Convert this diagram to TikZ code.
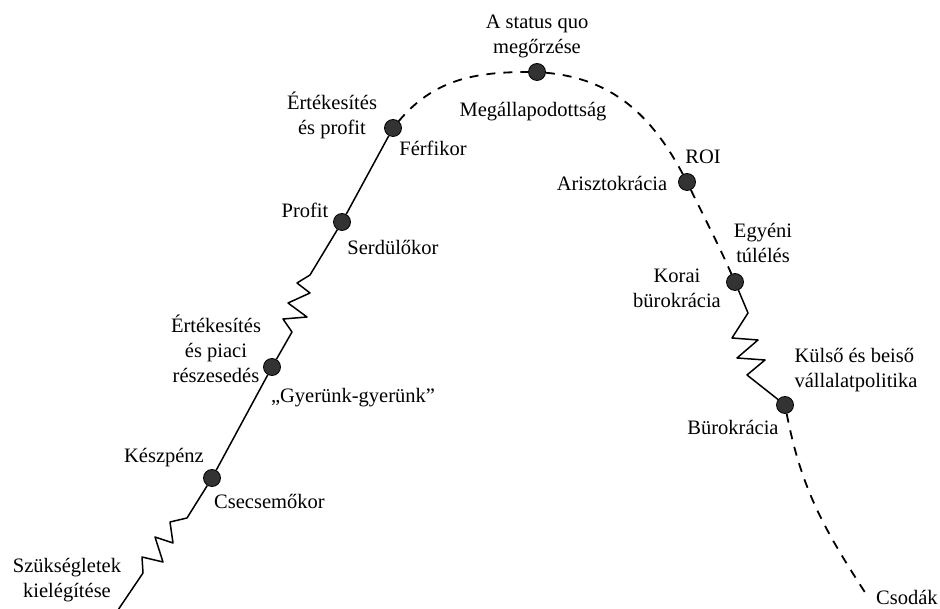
\documentclass[tikz,border=0pt]{standalone}
\usepackage{fontspec}
\setmainfont{Liberation Serif}
\begin{document}
\begin{tikzpicture}[x=1pt,y=1pt,
  dot/.style={circle,fill=black!80,draw=black,line width=0.8pt,inner sep=0pt,minimum size=17pt},
  solidline/.style={line width=1.5pt,line join=round},
  dashline/.style={line width=1.8pt,dash pattern=on 9pt off 8pt},
  lbl/.style={font=\fontsize{20.5}{25}\selectfont,inner sep=0pt,align=center}]
\fill[white] (0,0) rectangle (940,608);
\useasboundingbox (0,0) rectangle (940,608);

% stage points on the life-cycle curve
\coordinate (S) at (118,-2);
\node[dot] (K)  at (212,130) {};
\node[dot] (G)  at (272,241) {};
\node[dot] (P)  at (342,386) {};
\node[dot] (F)  at (393,480) {};
\node[dot] (T)  at (537,536) {};
\node[dot] (A)  at (687,426) {};
\node[dot] (KB) at (735,326) {};
\node[dot] (B)  at (785,203) {};
\coordinate (E) at (868,11);

% growing phase (solid, with zigzag breaks)
\draw[solidline] (S) -- (143,35) -- (142,51) -- (163,46) -- (155,71) -- (173,65)
  -- (170,86) -- (187,90) -- (K);
\draw[solidline] (K) -- (G);
\draw[solidline] (G) -- (292,276) -- (283,289) -- (307,291) -- (288,305) -- (310,315)
  -- (297,325) -- (310,333) -- (P);
\draw[solidline] (P) -- (F);

% ageing phase (dashed)
\draw[dashline] (F) to[out=50,in=180] (T);
\draw[dashline] (T) to[out=-5,in=118] (A);
\draw[dashline] (A) to[out=-64,in=114] (KB);
\draw[solidline] (KB) -- (748,295) -- (732,270) -- (758,268) -- (737,250) -- (765,248)
  -- (747,233) -- (B);
\draw[dashline] (B) to[out=-79,in=123] (E);

% stage labels
\node[lbl] (l1)  at (67,28)   {Szükségletek\\kielégítése};
\node[lbl] (l2)  at (164,150) {Készpénz};
\node[lbl,anchor=west] (l3) at (214,107) {Csecsemőkor};
\node[lbl] (l4)  at (216,259) {Értékesítés\\és piaci\\részesedés};
\node[lbl] (l5)  at (353,210) {„Gyerünk-gyerünk”};
\node[lbl] (l6)  at (305,398) {Profit};
\node[lbl] (l7)  at (393,361) {Serdülőkor};
\node[lbl] (l8)  at (332,493) {Értékesítés\\és profit};
\node[lbl] (l9)  at (433,460) {Férfikor};
\node[lbl] (l10) at (537,572) {A status quo\\megőrzése};
\node[lbl] (l11) at (533,496) {Megállapodottság};
\node[lbl] (l12) at (703,451) {ROI};
\node[lbl] (l13) at (612,425) {Arisztokrácia};
\node[lbl] (l14) at (763,365) {Egyéni\\túlélés};
\node[lbl] (l15) at (677,320) {Korai\\bürokrácia};
\node[lbl,align=left] (l16) at (856,238) {Külső és beiső\\vállalatpolitika};
\node[lbl] (l17) at (733,181) {Bürokrácia};
\node[lbl,anchor=west] (l18) at (876,11) {Csodák};
\end{tikzpicture}
\end{document}
